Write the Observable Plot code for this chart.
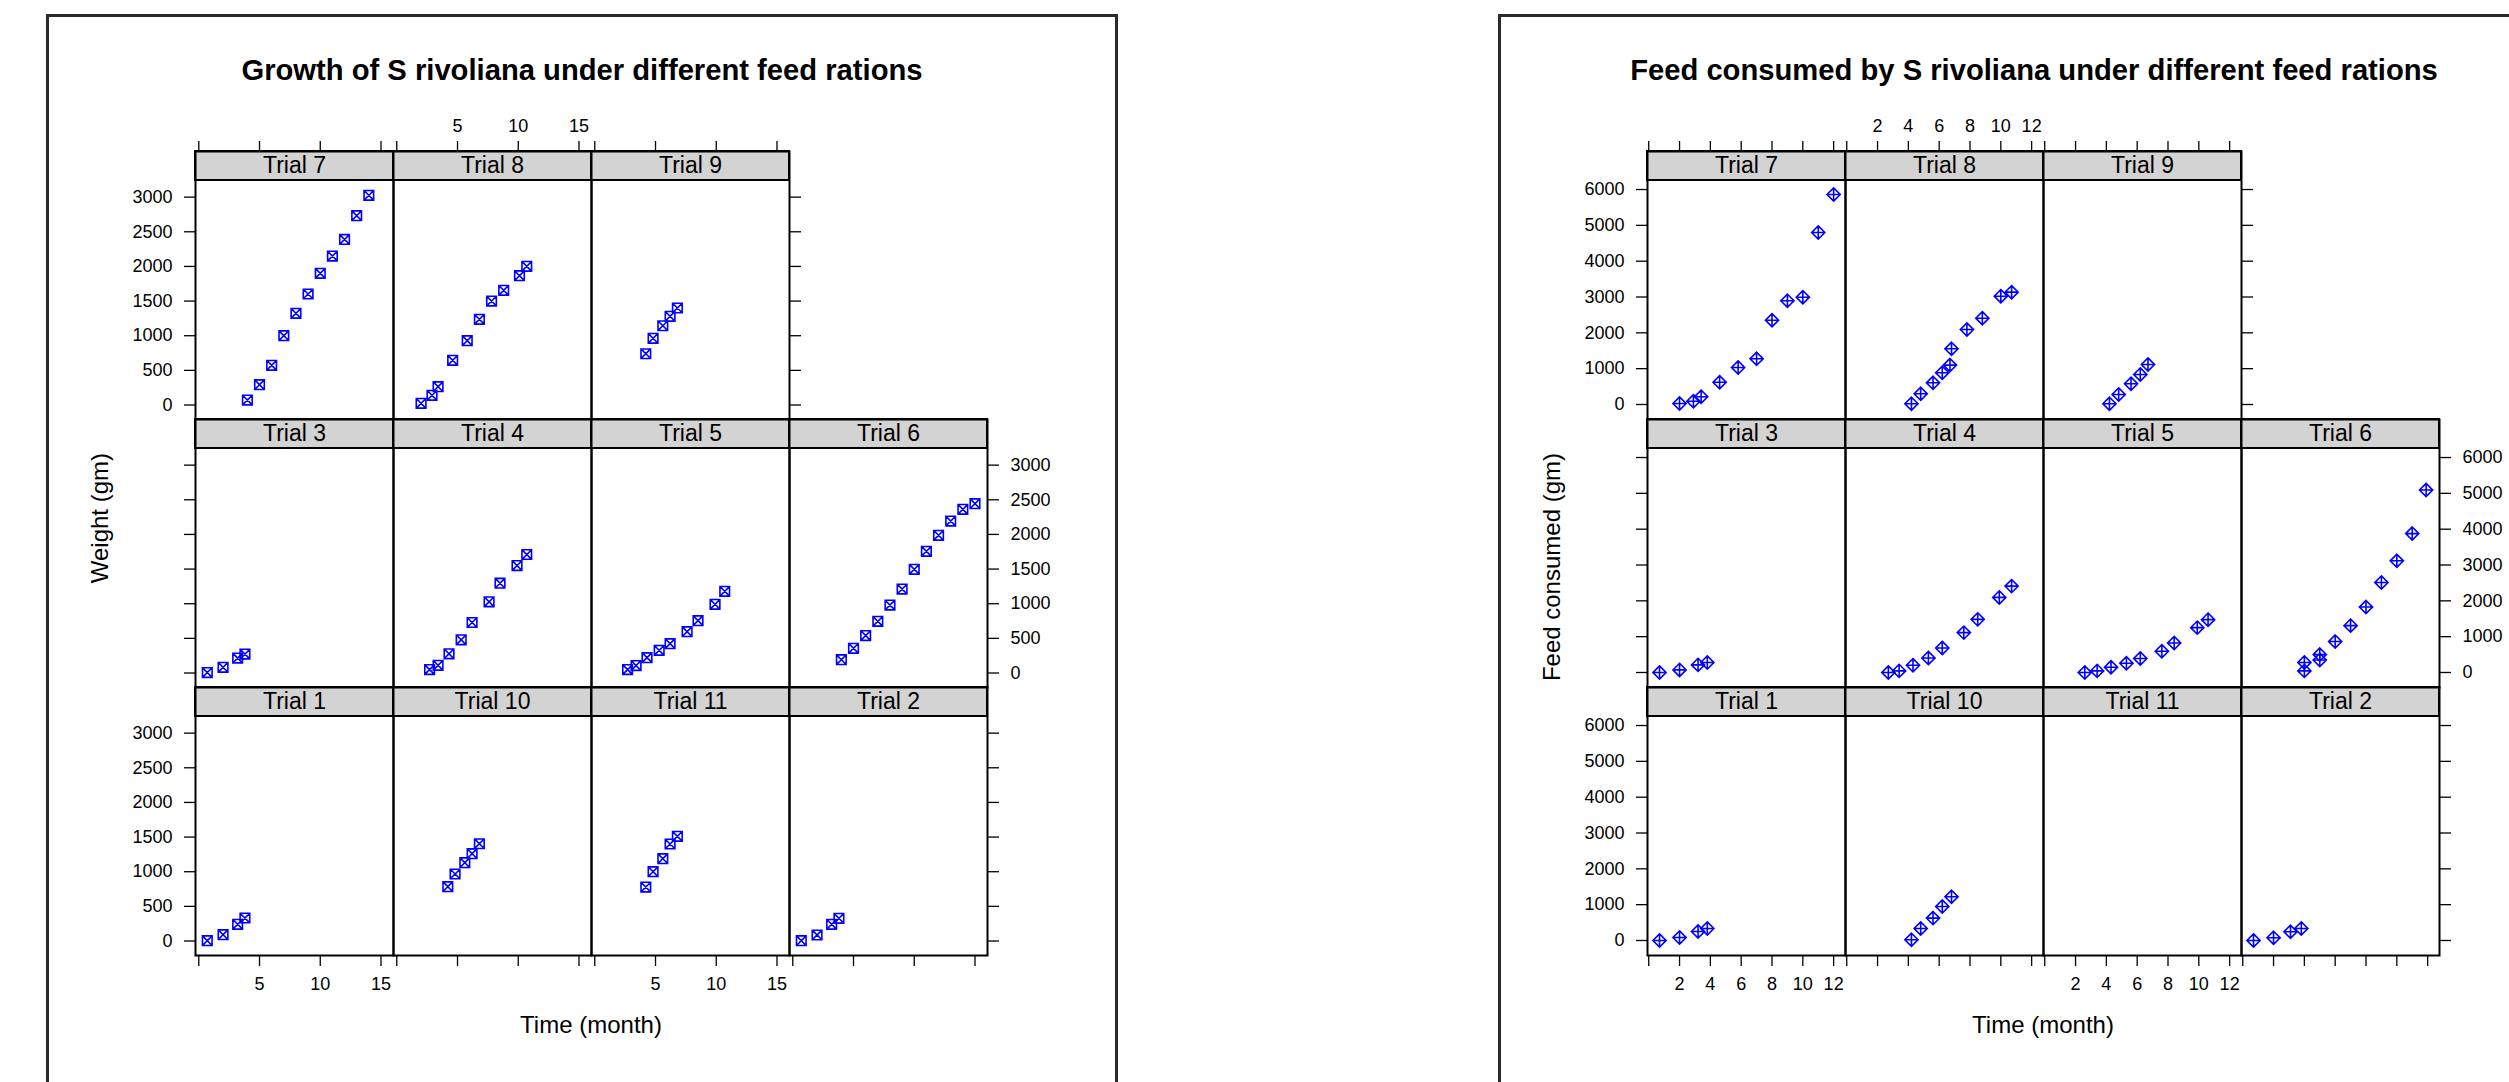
<!DOCTYPE html>
<html>
<head>
<meta charset="utf-8">
<script src="https://cdn.jsdelivr.net/npm/d3@7"></script>
<script src="https://cdn.jsdelivr.net/npm/@observablehq/plot@0.6"></script>
<style>
  body { margin: 0; background: #fff; }
  #page { position: relative; width: 2509px; height: 1082px; overflow: hidden; background: #fff;
          font-family: "Liberation Sans", Arial, Helvetica, sans-serif; }
  .box { position: absolute; border: 3px solid #2a2a2a; box-sizing: border-box; }
  .cell { position: absolute; }
  .cell svg { overflow: visible; }
</style>
</head>
<body>
<div id="page">
  <div class="box" style="left:46px;top:14px;width:1072px;height:1200px;"></div>
  <div class="box" style="left:1498px;top:14px;width:1200px;height:1200px;"></div>
</div>
<script>
// ---------------- DATA ----------------
const growthTitle = "Growth of S rivoliana under different feed rations";
const feedTitle = "Feed consumed by S rivoliana under different feed rations";
const xLabel = "Time (month)";
const growthYLabel = "Weight (gm)";
const feedYLabel = "Feed consumed (gm)";

// panel arrangement (top row first), as in the lattice layout
const panelRows = [
  ["Trial 7", "Trial 8", "Trial 9"],
  ["Trial 3", "Trial 4", "Trial 5", "Trial 6"],
  ["Trial 1", "Trial 10", "Trial 11", "Trial 2"]
];

const growthXTicks = [0, 5, 10, 15];
const growthYTicks = [0, 500, 1000, 1500, 2000, 2500, 3000];
const feedXTicks = [0, 2, 4, 6, 8, 10, 12];
const feedYTicks = [0, 1000, 2000, 3000, 4000, 5000, 6000];

// Growth (weight, gm) by trial
const gMonth1  = [0.7, 2.0, 3.2, 3.8];
const gWeight1 = [5, 91, 241, 332];
const gMonth2  = [0.7, 2.0, 3.2, 3.8];
const gWeight2 = [5, 87, 241, 327];
const gMonth3  = [0.7, 2.0, 3.2, 3.8];
const gWeight3 = [6, 82, 215, 273];
const gMonth4  = [2.7, 3.4, 4.3, 5.3, 6.2, 7.6, 8.5, 9.9, 10.7];
const gWeight4 = [49, 111, 277, 479, 729, 1027, 1296, 1551, 1710];
const gMonth5  = [2.7, 3.4, 4.3, 5.3, 6.2, 7.6, 8.5, 9.9, 10.7];
const gWeight5 = [49, 107, 222, 328, 424, 597, 756, 991, 1179];
const gMonth6  = [4, 5, 6, 7, 8, 9, 10, 11, 12, 13, 14, 15];
const gWeight6 = [193, 356, 540, 746, 981, 1212, 1496, 1756, 1987, 2193, 2362, 2444];
const gMonth7  = [4, 5, 6, 7, 8, 9, 10, 11, 12, 13, 14];
const gWeight7 = [72, 293, 573, 1000, 1323, 1602, 1900, 2150, 2390, 2732, 3026];
const gMonth8  = [2.0, 2.9, 3.4, 4.6, 5.8, 6.8, 7.8, 8.8, 10.1, 10.7];
const gWeight8 = [25, 140, 264, 645, 928, 1237, 1500, 1655, 1866, 2001];
const gMonth9  = [4.2, 4.8, 5.6, 6.2, 6.8];
const gWeight9 = [740, 962, 1144, 1280, 1400];
const gMonth10  = [4.2, 4.8, 5.6, 6.2, 6.8];
const gWeight10 = [784, 967, 1130, 1260, 1404];
const gMonth11  = [4.2, 4.8, 5.6, 6.2, 6.8];
const gWeight11 = [779, 1000, 1188, 1400, 1511];

// Feed consumed (gm) by trial
const fMonth1 = [0.7, 2.0, 3.2, 3.8];
const fFeed1  = [0, 84, 251, 335];
const fMonth2 = [0.7, 2.0, 3.1, 3.8];
const fFeed2  = [0, 75, 242, 335];
const fMonth3 = [0.7, 2.0, 3.2, 3.8];
const fFeed3  = [0, 72, 212, 278];
const fMonth4 = [2.7, 3.4, 4.3, 5.3, 6.2, 7.6, 8.5, 9.9, 10.7];
const fFeed4  = [0, 45, 203, 406, 684, 1113, 1483, 2096, 2411];
const fMonth5 = [2.6, 3.4, 4.3, 5.3, 6.2, 7.6, 8.4, 9.9, 10.6];
const fFeed5  = [0, 45, 148, 259, 390, 593, 824, 1252, 1475];
const fMonth6 = [4, 4, 5, 5, 6, 7, 8, 9, 10, 11, 11.9];
const fFeed6  = [45, 278, 350, 500, 863, 1308, 1826, 2513, 3117, 3877, 5093];
const fMonth7 = [2.0, 2.9, 3.4, 4.6, 5.8, 7.0, 8.0, 9.0, 10.0, 11.0, 12.0];
const fFeed7  = [28, 92, 215, 622, 1033, 1275, 2353, 2894, 2995, 4800, 5861];
const fMonth8 = [4.2, 4.8, 5.6, 6.2, 6.7, 6.8, 7.8, 8.8, 10.0, 10.7];
const fFeed8  = [19, 298, 605, 885, 1100, 1554, 2093, 2409, 3023, 3135];
const fMonth9 = [4.2, 4.8, 5.6, 6.2, 6.7];
const fFeed9  = [19, 279, 578, 837, 1116];
const fMonth10 = [4.2, 4.8, 5.6, 6.2, 6.8];
const fFeed10  = [19, 335, 625, 949, 1219];
const fMonth11 = [];
const fFeed11  = [];

const growthByTrial = {
  "Trial 1": [gMonth1, gWeight1], "Trial 2": [gMonth2, gWeight2], "Trial 3": [gMonth3, gWeight3],
  "Trial 4": [gMonth4, gWeight4], "Trial 5": [gMonth5, gWeight5], "Trial 6": [gMonth6, gWeight6],
  "Trial 7": [gMonth7, gWeight7], "Trial 8": [gMonth8, gWeight8], "Trial 9": [gMonth9, gWeight9],
  "Trial 10": [gMonth10, gWeight10], "Trial 11": [gMonth11, gWeight11]
};
const feedByTrial = {
  "Trial 1": [fMonth1, fFeed1], "Trial 2": [fMonth2, fFeed2], "Trial 3": [fMonth3, fFeed3],
  "Trial 4": [fMonth4, fFeed4], "Trial 5": [fMonth5, fFeed5], "Trial 6": [fMonth6, fFeed6],
  "Trial 7": [fMonth7, fFeed7], "Trial 8": [fMonth8, fFeed8], "Trial 9": [fMonth9, fFeed9],
  "Trial 10": [fMonth10, fFeed10], "Trial 11": [fMonth11, fFeed11]
};

// ---------------- SYMBOLS ----------------
const squareX = {
  draw(ctx, size) {
    const r = Math.sqrt(size / Math.PI);
    ctx.moveTo(-r, -r); ctx.lineTo(r, -r); ctx.lineTo(r, r); ctx.lineTo(-r, r); ctx.closePath();
    ctx.moveTo(-r, -r); ctx.lineTo(r, r);
    ctx.moveTo(r, -r); ctx.lineTo(-r, r);
  }
};
const diamondPlus = {
  draw(ctx, size) {
    const r = Math.sqrt(size / Math.PI);
    ctx.moveTo(0, -r); ctx.lineTo(r, 0); ctx.lineTo(0, r); ctx.lineTo(-r, 0); ctx.closePath();
    ctx.moveTo(0, -r); ctx.lineTo(0, r);
    ctx.moveTo(-r, 0); ctx.lineTo(r, 0);
  }
};

// ---------------- LAYOUT ----------------
const FONT = '"Liberation Sans", Arial, Helvetica, sans-serif';
const colLeft0 = 195, colW = 198, rowTop0 = 151, rowH = 268, stripH = 29;
const tickFmtX = d => (d === 0 ? "" : String(d));
const tickFmtY = d => String(d);
const blank = () => "";

const charts = [
  { dx: 0, title: growthTitle, ylab: growthYLabel, data: growthByTrial,
    xDomain: [-0.27, 16.03], xTicks: growthXTicks,
    yDomain: [-209, 3240], yTicks: growthYTicks, symbol: squareX, r: 4.8 },
  { dx: 1452, title: feedTitle, ylab: feedYLabel, data: feedByTrial,
    xDomain: [-0.08, 12.77], xTicks: feedXTicks,
    yDomain: [-419, 6252], yTicks: feedYTicks, symbol: diamondPlus, r: 6.6 }
];

const page = document.getElementById("page");

// static text layer
const svg = d3.select(page).append("svg")
  .attr("width", 2509).attr("height", 1082)
  .style("position", "absolute").style("left", 0).style("top", 0)
  .style("font-family", FONT);

for (const ch of charts) {
  svg.append("text").attr("x", 582 + ch.dx).attr("y", 80)
    .attr("text-anchor", "middle").attr("font-weight", "bold").attr("font-size", 29.2)
    .text(ch.title);
  svg.append("text").attr("x", 591 + ch.dx).attr("y", 1033)
    .attr("text-anchor", "middle").attr("font-size", 24).text(xLabel);
  svg.append("text").attr("transform", `translate(${108 + ch.dx},453) rotate(-90)`)
    .attr("text-anchor", "end").attr("font-size", 24).text(ch.ylab);

  const [y0, y1] = ch.yDomain;
  const yExt = y1 + stripH * (y1 - y0) / (rowH - stripH);
  const [x0, x1] = ch.xDomain;
  const xMid = (x0 + x1) / 2;
  const stripMid = (y1 + yExt) / 2;

  panelRows.forEach((row, r) => {
    row.forEach((name, c) => {
      const [months, values] = ch.data[name];
      const pts = months.map((m, i) => ({ month: m, value: values[i] }));
      const last = c === row.length - 1;
      const marks = [
        Plot.rect([name], { x1: x0, x2: x1, y1: y1, y2: yExt, fill: "#d3d3d3", stroke: "black", strokeWidth: 2 }),
        Plot.dot(pts, { x: "month", y: "value", symbol: ch.symbol, r: ch.r, stroke: "#0000ff", fill: "none", strokeWidth: 1.6 }),
        Plot.frame({ stroke: "black", strokeWidth: 2 }),
        Plot.text([name], { x: xMid, y: stripMid, text: d => d, fontSize: 23, fill: "black" })
      ];
      const axOpts = { tickSize: 11, strokeWidth: 1.3, fontSize: 18, label: null };
      // left axis
      if (c === 0) marks.push(Plot.axisY({ ...axOpts, anchor: "left", ticks: ch.yTicks, tickPadding: 12,
        tickFormat: r % 2 === 0 ? tickFmtY : blank }));
      // right axis
      if (last) marks.push(Plot.axisY({ ...axOpts, anchor: "right", ticks: ch.yTicks, tickPadding: 12,
        tickFormat: r % 2 === 1 ? tickFmtY : blank }));
      // top axis
      if (r === 0) marks.push(Plot.axisX({ ...axOpts, anchor: "top", ticks: ch.xTicks, tickPadding: 9,
        tickFormat: c % 2 === 1 ? tickFmtX : blank }));
      // bottom axis
      if (r === panelRows.length - 1) marks.push(Plot.axisX({ ...axOpts, anchor: "bottom", ticks: ch.xTicks, tickPadding: 11,
        tickFormat: c % 2 === 0 ? tickFmtX : blank }));

      const plot = Plot.plot({
        width: colW, height: rowH,
        marginTop: 0, marginRight: 0, marginBottom: 0, marginLeft: 0,
        x: { domain: ch.xDomain, axis: null },
        y: { domain: [y0, yExt], axis: null },
        style: { background: "none", overflow: "visible", fontFamily: FONT, fontSize: "18px", color: "black", maxWidth: "none" },
        marks
      });
      const div = document.createElement("div");
      div.className = "cell";
      div.style.left = (colLeft0 + ch.dx + c * colW) + "px";
      div.style.top = (rowTop0 + r * rowH) + "px";
      div.style.width = colW + "px";
      div.style.height = rowH + "px";
      div.appendChild(plot);
      page.appendChild(div);
    });
  });
}
</script>
</body>
</html>
